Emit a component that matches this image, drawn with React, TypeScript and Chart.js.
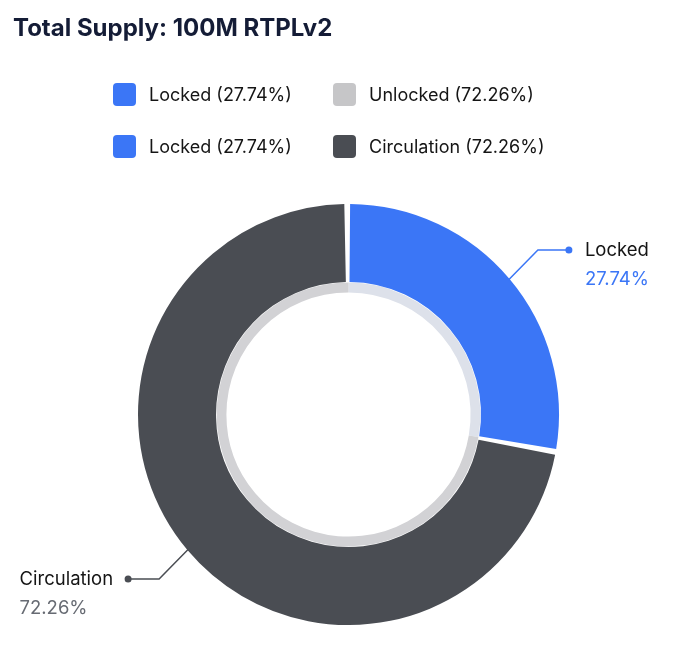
import React, { useEffect, useRef } from "react";
import { Chart, registerables } from "chart.js";

Chart.register(...registerables);

const titleText = "Total Supply: 100M RTPLv2";
const outerLabels = ["Locked", "Circulation"];
const outerValues = [27.74, 72.26];
const outerColors = ["#3b76f6", "#4a4d53"];
const innerLabels = ["Locked", "Unlocked"];
const innerValues = [27.74, 72.26];
const innerColors = ["#dde1ea", "#d2d2d5"];
const innerLegendColors = ["#3b76f6", "#c6c6c8"];
const calloutValueColors = ["#3b76f6", "#676b73"];

const FONT = "Inter, 'Noto Sans', sans-serif";

const calloutPlugin = {
  id: "callouts",
  afterDatasetsDraw(chart: any) {
    const ctx = chart.ctx;
    const meta = chart.getDatasetMeta(0);
    const data = chart.data.datasets[0].data as number[];
    const total = data.reduce((a: number, b: number) => a + b, 0);
    meta.data.forEach((arc: any, i: number) => {
      const p = arc.getProps(["x", "y", "startAngle", "endAngle", "outerRadius"], true);
      const mid = (p.startAngle + p.endAngle) / 2;
      const cx = Math.cos(mid);
      const sy = Math.sin(mid);
      const ex = p.x + cx * p.outerRadius;
      const ey = p.y + sy * p.outerRadius;
      const side = cx >= 0 ? 1 : -1;
      const vs = sy >= 0 ? 1 : -1;
      let ux = cx + side;
      let uy = sy + vs * 1.15;
      const n = Math.hypot(ux, uy);
      ux /= n;
      uy /= n;
      const elx = ex + ux * 42;
      const ely = ey + uy * 42;
      const dx = elx + side * 31;
      const dy = ely;
      const color = outerColors[i];
      ctx.save();
      ctx.strokeStyle = color;
      ctx.lineWidth = 1.5;
      ctx.beginPath();
      ctx.moveTo(ex, ey);
      ctx.lineTo(elx, ely);
      ctx.lineTo(dx, dy);
      ctx.stroke();
      ctx.fillStyle = color;
      ctx.beginPath();
      ctx.arc(dx, dy, 3.5, 0, Math.PI * 2);
      ctx.fill();
      const name = chart.data.labels[i];
      const pct = ((data[i] / total) * 100).toFixed(2) + "%";
      ctx.font = `400 18.5px ${FONT}`;
      ctx.textBaseline = "middle";
      ctx.textAlign = "left";
      const tx = side > 0 ? dx + 16 : dx - 15 - ctx.measureText(name).width;
      ctx.fillStyle = "#151515";
      ctx.fillText(name, tx, dy);
      ctx.fillStyle = calloutValueColors[i];
      ctx.fillText(pct, tx, dy + 29);
      ctx.restore();
    });
  },
};

function LegendRow({ labels, values, colors, top }: any) {
  const lefts = [113, 333];
  return (
    <>
      {labels.map((l: string, i: number) => (
        <div key={l + i} style={{ position: "absolute", left: lefts[i], top, height: 24, display: "flex", alignItems: "center" }}>
          <div style={{ width: 23, height: 23, borderRadius: 4, background: colors[i] }} />
          <span style={{ marginLeft: 13, fontFamily: FONT, fontSize: 18, color: "#151515", whiteSpace: "nowrap" }}>
            {l} ({values[i].toFixed(2)}%)
          </span>
        </div>
      ))}
    </>
  );
}

export default function App() {
  const ref = useRef<HTMLCanvasElement>(null);
  useEffect(() => {
    if (!ref.current) return;
    const chart = new Chart(ref.current, {
      type: "doughnut",
      data: {
        labels: outerLabels,
        datasets: [
          {
            label: "Supply",
            data: outerValues,
            backgroundColor: outerColors,
            borderWidth: 0,
            spacing: 3,
            weight: 8,
          } as any,
          {
            label: "Lock status",
            data: innerValues,
            backgroundColor: innerColors,
            borderWidth: 0,
            weight: 1,
          } as any,
        ],
      },
      options: {
        animation: false,
        responsive: false,
        devicePixelRatio: 1,
        cutout: "58%",
        layout: { padding: { left: 138, right: 131, top: 204, bottom: 36 } },
        plugins: { legend: { display: false }, tooltip: { enabled: false }, title: { display: false } },
      },
      plugins: [calloutPlugin],
    });
    return () => chart.destroy();
  }, []);
  return (
    <div style={{ position: "fixed", left: 0, top: 0, width: 690, height: 661, background: "#ffffff" }}>
      <canvas ref={ref} width={690} height={661} style={{ position: "absolute", left: 0, top: 0 }} />
      <div style={{ position: "absolute", left: 13, top: 13, fontFamily: FONT, fontWeight: 700, fontSize: 24, color: "#141c36", whiteSpace: "nowrap" }}>
        {titleText}
      </div>
      <LegendRow labels={innerLabels} values={innerValues} colors={innerLegendColors} top={82} />
      <LegendRow labels={outerLabels} values={outerValues} colors={outerColors} top={134} />
    </div>
  );
}
